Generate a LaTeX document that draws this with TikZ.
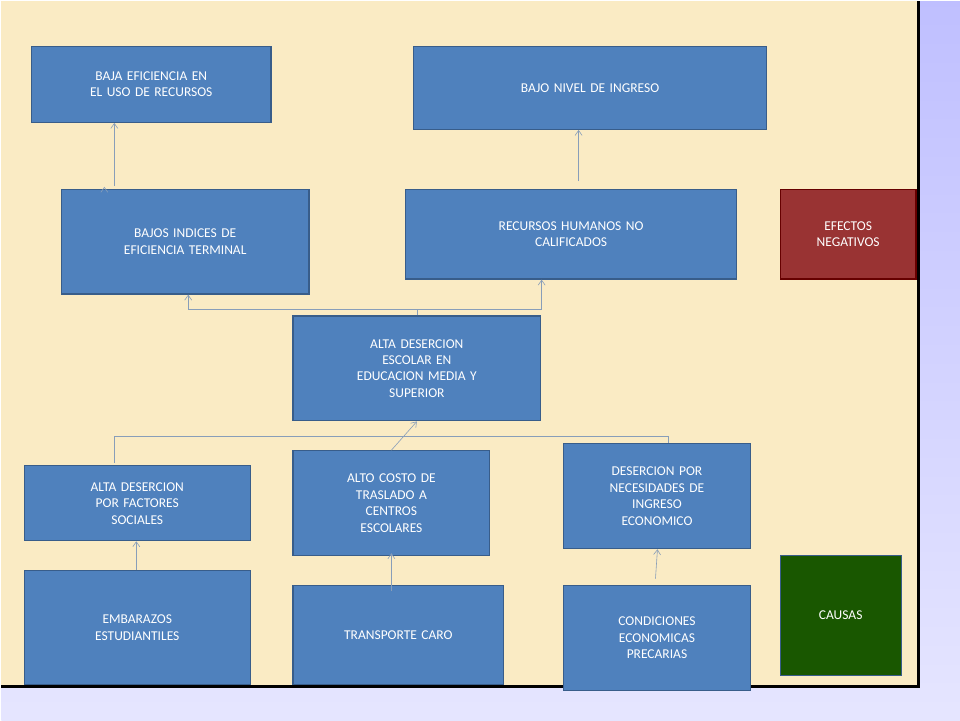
\documentclass[tikz,border=0pt]{standalone}
\usepackage{fontspec}
\setmainfont{Carlito}
\usetikzlibrary{positioning,arrows.meta}
\definecolor{boxblue}{HTML}{4F81BD}
\definecolor{boxline}{HTML}{385D8A}
\definecolor{parch}{HTML}{FAEBC4}
\begin{document}
\begin{tikzpicture}
	[x=1pt,y=-1pt,
	 card/.style={rectangle,draw=boxline,line width=1.2pt,fill=boxblue,text=white,
	   font=\fontsize{13.5}{16.5}\selectfont,align=center,inner sep=0pt},
	 link/.style={draw=boxline!60,line width=0.6pt},
	 up/.style={link,-{Straight Barb[length=5pt,width=7pt]}}]
	% background
	\fill[top color=blue!25,bottom color=blue!10] (0,0) rectangle (960,720);
	\fill[parch] (0,0) rectangle (918,686);
	\draw[line width=3pt] (0,686) -- (918,686) -- (918,0);
	\useasboundingbox (0,0) rectangle (960,720);
	% boxes
	\newcommand{\card}[6]{\node[card,minimum width={#4-#2},minimum height={#5-#3},
	  text width={#4-#2-8},#6] (#1) at ({(#2+#4)/2},{(#3+#5)/2})}
	\card{baja}{30}{45}{270}{121}{} {BAJA EFICIENCIA EN\\EL USO DE RECURSOS};
	\card{ingreso}{413}{45}{766}{128}{} {BAJO NIVEL DE INGRESO};
	\card{indices}{60}{188}{308}{293}{} {BAJOS INDICES DE\\EFICIENCIA TERMINAL};
	\card{rrhh}{405}{188}{736}{278}{} {RECURSOS HUMANOS NO\\CALIFICADOS};
	\card{efectos}{780}{188}{916}{278}{fill=red!50!black!80!white,draw=red!40!black} {EFECTOS\\NEGATIVOS};
	\card{central}{292}{315}{540}{420}{} {ALTA DESERCION\\ESCOLAR EN\\EDUCACION MEDIA Y\\SUPERIOR};
	\card{social}{23}{465}{249}{540}{} {ALTA DESERCION\\POR FACTORES\\SOCIALES};
	\card{costo}{292}{450}{489}{555}{} {ALTO COSTO DE\\TRASLADO A\\CENTROS\\ESCOLARES};
	\card{necesidad}{563}{443}{750}{548}{} {DESERCION POR\\NECESIDADES DE\\INGRESO\\ECONOMICO};
	\card{embarazo}{23}{570}{249}{684}{} {EMBARAZOS\\ESTUDIANTILES};
	\card{transporte}{292}{585}{503}{684}{} {TRANSPORTE CARO};
	\card{condicion}{563}{585}{750}{690}{} {CONDICIONES\\ECONOMICAS\\PRECARIAS};
	\card{causas}{780}{555}{901}{675}{fill=green!30!black!80!olive,draw=boxline} {CAUSAS};
	% connectors
	\coordinate (top) at (central.north |- 0,308);
	\coordinate (bot) at (central.south |- 0,435);
	\draw[up] ([xshift=-10pt]indices.south -| 113,0) ++(0,-108) coordinate (a1);
	\draw[up] (113,185) -- (baja.south -| 113,0);
	\draw[up] (578,180) -- (ingreso.south -| 578,0);
	\draw[link] (central.north) -- (top);
	\draw[up] (top) -- (187,308) -- (indices.south -| 187,0);
	\draw[up] (top) -- (541,308) -- (rrhh.south -| 541,0);
	\draw[link] (113,462) -- (113,435) -- (668,435) -- (necesidad.north -| 668,0);
	\draw[up] (costo.north) -- (central.south);
	\draw[up] (embarazo.north -| 135,0) -- (social.south -| 135,0);
	\draw[up] ([yshift=-6pt]transporte.north -| costo.south) -- ([yshift=3pt]costo.south);
	\draw[up] (655,578) -- (necesidad.south -| 657,0);
\end{tikzpicture}
\end{document}
